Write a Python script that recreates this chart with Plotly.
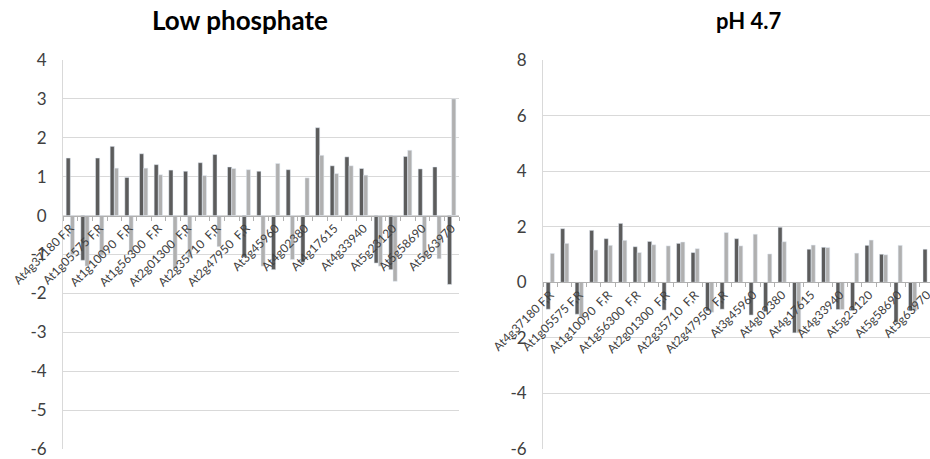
import plotly.graph_objects as go

# ---- data ----
gene_labels = ["At4g37180 F,R", "At1g05575 F,R", "At1g10090  F,R", "At1g56300  F,R",
               "At2g01300  F,R", "At2g35710  F,R", "At2g47950  F,R", "At3g45960",
               "At4g02380", "At4g17615", "At4g33940", "At5g23120", "At5g58690", "At5g63970"]
# 27 categories; only every other one carries a visible label
categories = []
tick_text = []
for i in range(27):
    if i % 2 == 0:
        categories.append(gene_labels[i // 2])
        tick_text.append(gene_labels[i // 2])
    else:
        categories.append(" " * i)
        tick_text.append("")

lowp_dark = [1.48, -1.15, 1.48, 1.78, 0.98, 1.59, 1.31, 1.17, 1.14, 1.36, 1.57, 1.25, -1.07, 1.14,
             -1.39, 1.18, -1.2, 2.26, 1.28, 1.51, 1.21, -1.22, -1.39, 1.52, 1.2, 1.25, -1.77]
lowp_light = [-1.0, -1.3, -1.02, 1.22, -0.93, 1.22, 1.05, -1.36, -1.08, 1.03, -0.8, 1.21, 1.18, -1.3,
              1.34, -1.13, 0.97, 1.55, 1.08, 1.28, 1.04, -1.3, -1.69, 1.68, -1.09, -1.11, 3.0]
ph_dark = [-0.97, 1.93, -1.15, 1.87, 1.57, 2.12, 1.28, 1.47, -1.0, 1.4, 1.07, -1.03, -0.97, 1.57,
           -1.18, -1.06, 1.98, -1.82, 1.19, 1.26, -0.98, -1.02, 1.33, 1.01, -1.45, -1.03, 1.19]
ph_light = [1.04, 1.4, -1.27, 1.16, 1.33, 1.51, 1.07, 1.35, 1.31, 1.45, 1.21, -1.08, 1.79, 1.31,
            1.73, 1.02, 1.46, -1.82, 1.34, 1.25, -0.98, 1.05, 1.52, 0.99, 1.33, -1.03, None]

titles = ["Low phosphate", "pH 4.7"]
lowp_range = [-6, 4]
ph_range = [-6, 8]
lowp_ticks = [-6, -5, -4, -3, -2, -1, 0, 1, 2, 3, 4]
ph_ticks = [-6, -4, -2, 0, 2, 4, 6, 8]

# ---- style ----
W, H = 930, 459
DARK = "#5c5c5c"
LIGHT = "#b0b0b0"
GRID = "#d9d9d9"
AXIS = "#b0b0b0"
TXT = "#404040"
FONT = "Lato"

fig = go.Figure()
fig.add_trace(go.Bar(x=categories, y=lowp_dark, marker_color=DARK, xaxis="x", yaxis="y"))
fig.add_trace(go.Bar(x=categories, y=lowp_light, marker_color=LIGHT, xaxis="x", yaxis="y"))
fig.add_trace(go.Bar(x=categories, y=ph_dark, marker_color=DARK, xaxis="x2", yaxis="y2"))
fig.add_trace(go.Bar(x=categories, y=ph_light, marker_color=LIGHT, xaxis="x2", yaxis="y2"))

y_dom = [1 - 449 / H, 1 - 60 / H]


def zero_pos(rng):
    return y_dom[0] + (0 - rng[0]) / (rng[1] - rng[0]) * (y_dom[1] - y_dom[0])


xcommon = dict(type="category", tickmode="array", tickvals=categories, ticktext=tick_text,
               tickangle=-45, tickson="boundaries", ticks="outside", ticklen=4, tickcolor=AXIS,
               showline=True, linecolor=AXIS, linewidth=1, showgrid=False, automargin=False,
               tickfont=dict(family=FONT, size=12, color=TXT), anchor="free",
               categoryorder="array", categoryarray=categories)
ycommon = dict(showgrid=True, gridcolor=GRID, gridwidth=1, zeroline=False, showline=True,
               linecolor=GRID, ticks="", ticklabelstandoff=12, automargin=False,
               tickmode="array", tickfont=dict(family=FONT, size=17, color=TXT))

fig.update_layout(
    width=W, height=H, margin=dict(l=0, r=0, t=0, b=0, autoexpand=False),
    paper_bgcolor="white", plot_bgcolor="white", showlegend=False,
    barmode="group", bargap=0.43, bargroupgap=0,
    xaxis=dict(domain=[63 / W, 459 / W], range=[-0.5, 26.5], position=zero_pos(lowp_range), **xcommon),
    yaxis=dict(domain=y_dom, range=lowp_range, anchor="x", tickvals=lowp_ticks,
               ticktext=[str(v) for v in lowp_ticks], **ycommon),
    xaxis2=dict(domain=[543 / W, 1.0], range=[-0.5, 26.2], position=zero_pos(ph_range), **xcommon),
    yaxis2=dict(domain=y_dom, range=ph_range, anchor="x2", tickvals=ph_ticks,
                ticktext=[str(v) for v in ph_ticks], **ycommon),
    annotations=[
        dict(text="<b>%s</b>" % titles[0], x=240 / W, y=1 - 20 / H, xref="paper", yref="paper",
             xanchor="center", yanchor="middle", showarrow=False,
             font=dict(family=FONT, size=26, color="#000000")),
        dict(text="<b>%s</b>" % titles[1], x=748 / W, y=1 - 20 / H, xref="paper", yref="paper",
             xanchor="center", yanchor="middle", showarrow=False,
             font=dict(family=FONT, size=22, color="#000000")),
    ],
)

fig.write_html("out.html", config={"displayModeBar": False},
               post_script="document.body.style.margin='0';")
